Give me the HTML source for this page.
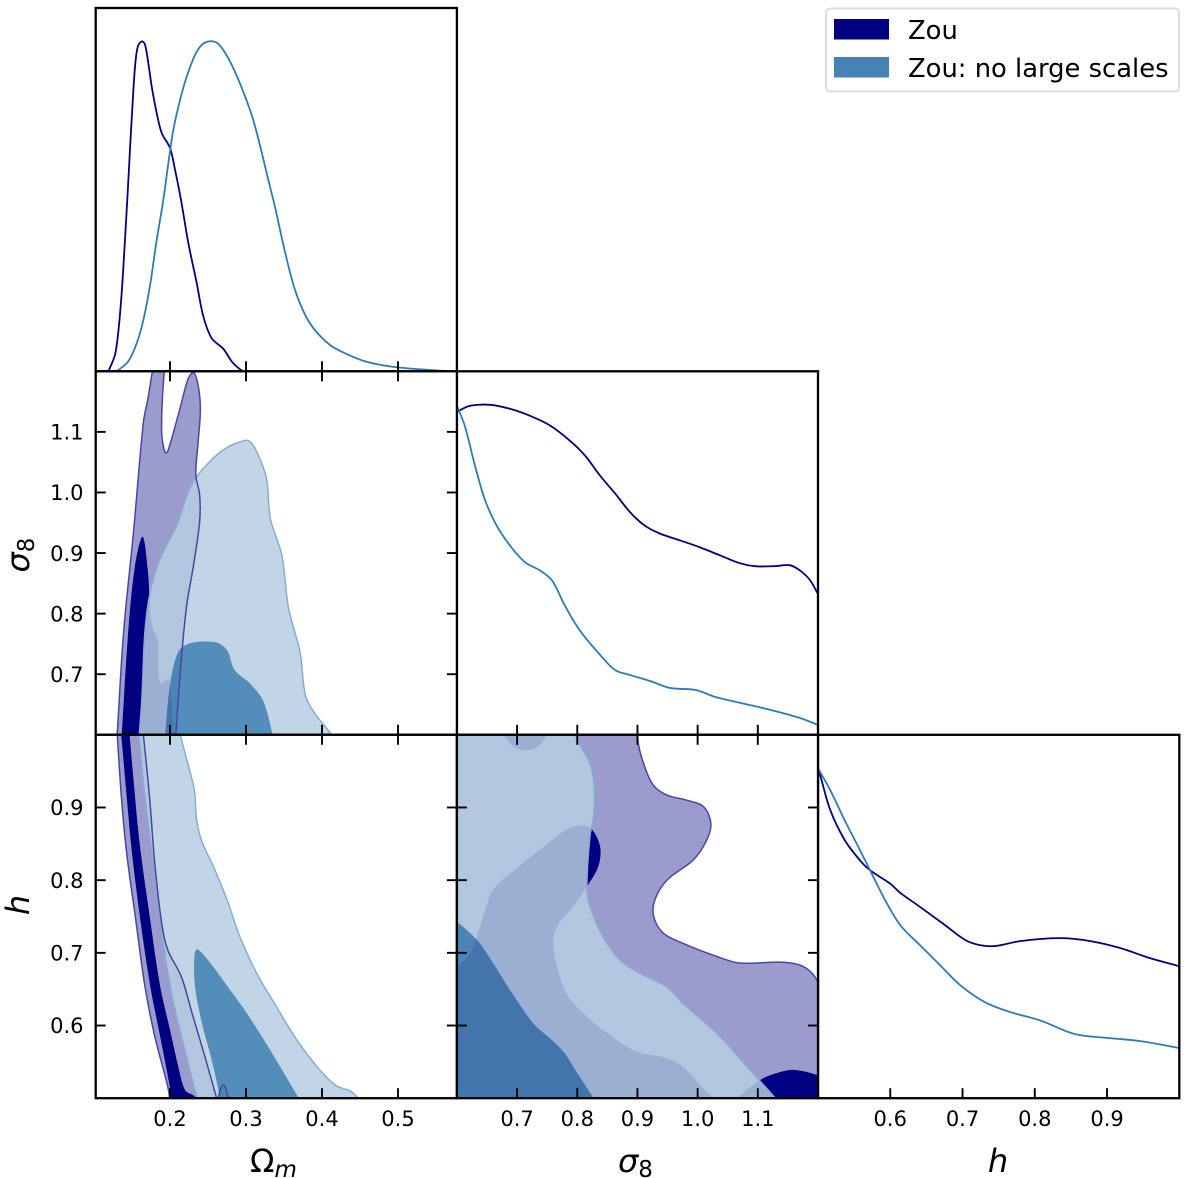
<!DOCTYPE html>
<html lang="en">
<head>
<meta charset="utf-8">
<title>Triangle plot: Zou contours</title>
<style>
html,body{margin:0;padding:0;background:#fff;}
#chart{display:block;width:1200px;height:1178px;font-family:"DejaVu Sans","Liberation Sans",sans-serif;}
</style>
</head>
<body>
<svg id="chart" xmlns="http://www.w3.org/2000/svg" width="1200" height="1178" viewBox="0 0 1200 1178">
  <rect x="0" y="0" width="1200" height="1178" fill="#fff"/>
  <g id="plots"></g>
  <g fill="#000">
    <text x="250" y="1172" font-size="32">Ω<tspan font-style="italic" font-size="23" dy="5">m</tspan></text>
    <text x="618" y="1172" font-size="32"><tspan font-style="italic">σ</tspan><tspan font-size="23" dy="5">8</tspan></text>
    <text x="998" y="1172" font-size="32" font-style="italic" text-anchor="middle">h</text>
    <text transform="translate(29,555) rotate(-90)" font-size="32" text-anchor="middle"><tspan font-style="italic">σ</tspan><tspan font-size="23" dy="5">8</tspan></text>
    <text transform="translate(29,905) rotate(-90)" font-size="32" font-style="italic" text-anchor="middle">h</text>
  </g>
  <g>
    <rect x="826" y="8.5" width="353" height="83" rx="4" fill="#fff" stroke="#dcdcdc" stroke-width="2"/>
    <rect x="834" y="19" width="55" height="20.5" fill="#000080"/>
    <text x="908" y="39" font-size="25.8" fill="#000">Zou</text>
    <rect x="834" y="57" width="55" height="20.5" fill="#4682b4"/>
    <text x="908" y="77" font-size="25.8" fill="#000">Zou: no large scales</text>
  </g>
</svg>
<script>
// ---------- Data: 1D marginals (parameter value, normalised density) ----------
const omegaGridZou = [.119,.1276,.132,.1365,.1408,.1443,.1474,.1505,.1539,.1575,.1628,.1671,.1715,.176,.1825,.1891,.2,.2066,.2145,.2241,.2351,.2438,.2549,.2702,.2812,.2921,.296];
const omegaDensityZou = [0,.05,.12,.24,.40,.54,.675,.80,.92,.983,1,.99,.933,.862,.783,.722,.677,.611,.519,.389,.268,.167,.1,.068,.03,.006,0];
const omegaGridNoLarge = [.130,.1451,.1562,.1649,.1737,.1825,.1912,.1978,.2043,.2132,.222,.2329,.2417,.2526,.2636,.2768,.2921,.3096,.3316,.338,.351,.364,.378,.391,.411,.43,.457,.489,.529,.568];
const omegaDensityNoLarge = [0,.03,.085,.155,.26,.398,.519,.63,.731,.822,.893,.958,.989,1,.992,.948,.872,.761,.559,.50,.365,.25,.17,.124,.079,.055,.03,.015,.006,0];

const sigmaGridZou = [.6,.622,.655,.688,.721,.755,.788,.813,.838,.863,.888,.912,.937,.971,1.004,1.037,1.07,1.095,1.128,1.153,1.17,1.187,1.2];
const sigmaDensityZou = [.979,.997,1,.988,.967,.937,.891,.846,.785,.731,.674,.634,.61,.589,.568,.544,.52,.511,.511,.514,.498,.468,.426];
const sigmaGridNoLarge = [.6,.613,.63,.647,.666,.688,.713,.738,.758,.779,.804,.838,.863,.888,.921,.954,.996,1.029,1.07,1.12,1.17,1.2];
const sigmaDensityNoLarge = [.997,.937,.816,.71,.634,.574,.523,.498,.468,.393,.317,.242,.196,.181,.163,.142,.136,.115,.097,.076,.051,.03];

const hGridZou = [.5,.503,.517,.537,.558,.572,.6,.614,.641,.676,.704,.724,.745,.78,.835,.877,.918,.96,1];
const hDensityZou = [1,.979,.873,.782,.721,.691,.65,.622,.58,.524,.479,.464,.461,.476,.485,.476,.455,.424,.4];
const hGridNoLarge = [.5,.517,.537,.558,.572,.593,.614,.641,.669,.697,.731,.766,.807,.856,.904,.946,1];
const hDensityNoLarge = [1,.933,.842,.752,.691,.6,.524,.464,.403,.342,.291,.261,.236,.194,.182,.173,.152];

// ---------- Data: 2D contours, each a list of smooth boundary runs of [x,y] parameter values ----------
const omegaSigmaZouOuter = [[[.130,.59],[.139,.770],[.152,.935],[.165,1.116],[.171,1.155],[.178,1.21]],
  [[.193,1.21],[.190,1.155],[.189,1.100],[.192,1.072],[.195,1.065],[.199,1.075],[.213,1.138],[.224,1.188],[.231,1.198],[.237,1.177],[.240,1.138],[.237,1.083],[.234,1.029],[.239,.996],[.239,.952],[.231,.880],[.222,.814],[.215,.726],[.207,.59]]];
const omegaSigmaZouInner = [[[.136,.59],[.145,.770],[.154,.880],[.164,.927],[.171,.869],[.173,.825],[.176,.781],[.184,.754],[.185,.699],[.189,.684],[.198,.693],[.202,.660],[.204,.59]]];
const omegaSigmaNoLargeOuter = [[[.159,.59],[.163,.660],[.167,.770],[.174,.836],[.187,.891],[.209,.946],[.226,1.007],[.244,1.040],[.272,1.072],[.299,1.086],[.306,1.083],[.315,1.065],[.327,1.023],[.332,.957],[.347,.897],[.356,.809],[.371,.737],[.378,.666],[.389,.638],[.413,.60]]];
const omegaSigmaNoLargeInner = [[[.193,.59],[.200,.682],[.211,.737],[.226,.751],[.259,.753],[.275,.740],[.285,.707],[.305,.685],[.323,.655],[.337,.59]]];

const omegaHZouOuter = [[[.130,1.01],[.136,.915],[.143,.837],[.155,.745],[.167,.654],[.180,.585],[.197,.516],[.201,.49]],
  [[.264,.49],[.246,.557],[.229,.617],[.215,.667],[.197,.704],[.189,.741],[.180,.823],[.173,.915],[.164,1.01]]];
const omegaHZouLobe = [[[.261,.49],[.268,.517],[.272,.517],[.279,.49]]];
const omegaHZouInner = [[[.135,1.01],[.143,.915],[.150,.837],[.161,.745],[.174,.654],[.187,.585],[.200,.514],[.203,.49]],
  [[.236,.49],[.233,.502],[.220,.511],[.211,.543],[.200,.594],[.187,.654],[.174,.745],[.160,.851],[.152,.938],[.146,1.01]]];
const omegaHNoLargeOuter = [[[.158,1.01],[.167,.915],[.178,.823],[.192,.708],[.202,.644],[.215,.585],[.226,.539],[.238,.49]],
  [[.448,.5],[.437,.510],[.419,.517],[.397,.539],[.367,.580],[.340,.626],[.314,.672],[.292,.722],[.275,.773],[.257,.819],[.242,.853],[.235,.883],[.232,.924],[.222,.966],[.211,1.01]]];
const omegaHNoLargeInner = [[[.268,.49],[.255,.552],[.242,.603],[.233,.653],[.232,.695],[.236,.705],[.253,.686],[.279,.649],[.301,.617],[.332,.566],[.375,.49]]];

const sigmaHZouOuter = [[[.900,1.01],[.9014,.988],[.910,.961],[.926,.931],[.949,.917],[.982,.910],[1.010,.901],[1.022,.878],[1.015,.855],[.993,.828],[.949,.800],[.929,.773],[.927,.750],[.943,.727],[.976,.713],[1.032,.695],[1.070,.686],[1.142,.687],[1.176,.681],[1.198,.663],[1.21,.63]],
  [[1.21,.49]],[[.59,.49]],[[.59,1.01]]];
const sigmaHZouInnerMain = [[[.59,.673],[.622,.699],[.635,.727],[.647,.759],[.660,.787],[.699,.816],[.744,.846],[.785,.871],[.807,.875],[.824,.870],[.838,.846],[.835,.819],[.816,.791],[.793,.764],[.766,.736],[.760,.713],[.768,.676],[.782,.644],[.810,.617],[.854,.587],[.899,.564],[.949,.555],[.976,.543],[1.015,.509],[1.045,.49]],
  [[.59,.49]]];
const sigmaHZouInnerCorner = [[[1.05,.49],[1.104,.525],[1.129,.534],[1.159,.539],[1.198,.532],[1.21,.525]],[[1.21,.49]]];
const sigmaHZouInnerTop = [[[.668,1.01],[.694,.984],[.713,.979],[.735,.984],[.758,1.01]]];
const sigmaHNoLargeOuter = [[[.790,1.01],[.807,.982],[.821,.961],[.828,.929],[.827,.888],[.821,.860],[.816,.791],[.821,.764],[.843,.722],[.871,.690],[.904,.672],[.949,.653],[.976,.630],[1.032,.589],[1.087,.539],[1.14,.49]],
  [[.59,.49]],[[.59,1.01]]];
const sigmaHNoLargeInner = [[[.59,.75],[.633,.718],[.660,.686],[.688,.649],[.727,.603],[.755,.582],[.777,.564],[.799,.536],[.835,.49]],[[.59,.49]]];

// ---------- Data: tick labels ----------
const omegaTicks = [0.2, 0.3, 0.4, 0.5];
const sigmaTicks = [0.7, 0.8, 0.9, 1.0, 1.1];
const hTicks = [0.6, 0.7, 0.8, 0.9];

// ---------- Axis functions ----------
const colLeft = 95.7, colOmegaEnd = 456.9, colSigmaEnd = 818, colHEnd = 1179.3;
const rowTop = 8, rowSigmaStart = 371.3, rowHStart = 734.8, rowEnd = 1098.2;
const xOmega = v => 170 + (v - 0.2) * 760;
const xSigma = v => colOmegaEnd + (v - 0.6) * (colSigmaEnd - colOmegaEnd) / 0.6;
const xH = v => colSigmaEnd + (v - 0.5) * (colHEnd - colSigmaEnd) / 0.5;
const ySigma = v => rowHStart - (v - 0.6) * (rowHStart - rowSigmaStart) / 0.6;
const yH = v => rowEnd - (v - 0.5) * (rowEnd - rowHStart) / 0.5;
const densityScale = 330;
const yDensity = bottom => v => bottom - v * densityScale;

const NS = 'http://www.w3.org/2000/svg';
const root = document.getElementById('plots');
function make(tag, attrs, parent) {
  const el = document.createElementNS(NS, tag);
  for (const k in attrs) el.setAttribute(k, attrs[k]);
  parent.appendChild(el);
  return el;
}
function dist(a, b) {
  return Math.hypot(a[0] - b[0], a[1] - b[1]);
}
function smoothRun(pts, first) {
  let d = (first ? 'M' : 'L') + pts[0][0].toFixed(2) + ' ' + pts[0][1].toFixed(2);
  for (let i = 0; i < pts.length - 1; i++) {
    const p0 = pts[Math.max(i - 1, 0)], p1 = pts[i], p2 = pts[i + 1], p3 = pts[Math.min(i + 2, pts.length - 1)];
    const d01 = dist(p0, p1), d12 = dist(p1, p2), d23 = dist(p2, p3);
    const f1 = d12 / ((d01 + d12) || 1) / 1.5, f2 = d12 / ((d12 + d23) || 1) / 1.5;
    const c1x = p1[0] + (p2[0] - p0[0]) * f1 * 0.5, c1y = p1[1] + (p2[1] - p0[1]) * f1 * 0.5;
    const c2x = p2[0] - (p3[0] - p1[0]) * f2 * 0.5, c2y = p2[1] - (p3[1] - p1[1]) * f2 * 0.5;
    d += 'C' + [c1x, c1y, c2x, c2y, p2[0], p2[1]].map(n => n.toFixed(2)).join(' ');
  }
  return d;
}
function contourPath(runs, sx, sy) {
  let d = '';
  runs.forEach((run, i) => {
    d += smoothRun(run.map(p => [sx(p[0]), sy(p[1])]), i === 0);
  });
  return d + 'Z';
}
function curvePath(xs, ys, sx, sy) {
  return smoothRun(xs.map((x, i) => [sx(x), sy(ys[i])]), true);
}

let clipCount = 0;
function panel(name, x0, y0, x1, y1) {
  clipCount += 1;
  const g = make('g', { style: 'isolation:isolate' }, root);
  
  
  const defs = make('defs', {}, g);
  const clip = make('clipPath', { id: 'clip' + clipCount }, defs);
  make('rect', { x: x0, y: y0, width: x1 - x0, height: y1 - y0 }, clip);
  const body = make('g', { 'clip-path': 'url(#clip' + clipCount + ')', style: 'isolation:isolate' }, g);
  const bg = make('rect', { x: x0, y: y0, width: x1 - x0, height: y1 - y0, fill: '#fff' }, body);
  
  
  return { g, body, x0, y0, x1, y1 };
}
function addFill(p, name, d, attrs) {
  const el = make('path', Object.assign({ d: d, stroke: 'none' }, attrs), p.body);
  
  
  return el;
}
function addContours(p, sx, sy, sets) {
  sets.zouOuter.forEach(c => addFill(p, 'contour-zou-outer', contourPath(c, sx, sy), { fill: '#9b9bce' }));
  sets.zouInner.forEach(c => addFill(p, 'contour-zou-inner', contourPath(c, sx, sy), { fill: '#000080' }));
  addFill(p, 'contour-no-large-scales-outer', contourPath(sets.nlOuter, sx, sy), { fill: 'rgb(182,206,226)', 'fill-opacity': 0.85 });
  addFill(p, 'contour-no-large-scales-inner', contourPath(sets.nlInner, sx, sy), { fill: 'rgb(110,170,208)', style: 'mix-blend-mode:multiply' });
  addFill(p, 'contour-no-large-scales-outline', contourPath(sets.nlOuter, sx, sy), { fill: 'none', stroke: '#86add0', 'stroke-width': 1.5 });
  sets.zouOuter.forEach(c => addFill(p, 'contour-zou-outline', contourPath(c, sx, sy), { fill: 'none', stroke: '#4747a3', 'stroke-width': 1.5 }));
}
function addLine(p, name, d, colour) {
  const el = make('path', { d: d, fill: 'none', stroke: colour, 'stroke-width': 1.8 }, p.body);
  
  
}
function addFrame(p, name) {
  const el = make('rect', { x: p.x0, y: p.y0, width: p.x1 - p.x0, height: p.y1 - p.y0, fill: 'none', stroke: '#000', 'stroke-width': 2.3 }, p.g);
  
  
}
function tickMarks(p, ticks, scale, sides) {
  const len = 10;
  ticks.forEach(t => {
    const v = scale(t);
    sides.forEach(s => {
      let c;
      if (s === 'bottom') c = [v, p.y1, v, p.y1 - len];
      if (s === 'top') c = [v, p.y0, v, p.y0 + len];
      if (s === 'left') c = [p.x0, v, p.x0 + len, v];
      if (s === 'right') c = [p.x1, v, p.x1 - len, v];
      const el = make('line', { x1: c[0], y1: c[1], x2: c[2], y2: c[3], stroke: '#000', 'stroke-width': 1.9 }, p.g);
      
      
    });
  });
}
function xTickLabels(ticks, scale) {
  ticks.forEach(t => {
    const el = make('text', { x: scale(t), y: 1125.8, 'font-size': 21, 'text-anchor': 'middle', fill: '#000' }, root);
    el.textContent = t.toFixed(1);
    
    
  });
}
function yTickLabels(ticks, scale) {
  ticks.forEach(t => {
    const el = make('text', { x: 83.5, y: scale(t) + 7.7, 'font-size': 21, 'text-anchor': 'end', fill: '#000' }, root);
    el.textContent = t.toFixed(1);
    
    
  });
}

// ---------- Diagonal panels ----------
const pOmega1D = panel('panel-omega-m-marginal', colLeft, rowTop, colOmegaEnd, rowSigmaStart);
addLine(pOmega1D, 'marginal-zou', curvePath(omegaGridZou, omegaDensityZou, xOmega, yDensity(rowSigmaStart)), '#000080');
addLine(pOmega1D, 'marginal-no-large-scales', curvePath(omegaGridNoLarge, omegaDensityNoLarge, xOmega, yDensity(rowSigmaStart)), '#2c7cb6');
tickMarks(pOmega1D, omegaTicks, xOmega, ['bottom']);
addFrame(pOmega1D, 'panel-frame');

const pSigma1D = panel('panel-sigma-8-marginal', colOmegaEnd, rowSigmaStart, colSigmaEnd, rowHStart);
addLine(pSigma1D, 'marginal-zou', curvePath(sigmaGridZou, sigmaDensityZou, xSigma, yDensity(rowHStart)), '#000080');
addLine(pSigma1D, 'marginal-no-large-scales', curvePath(sigmaGridNoLarge, sigmaDensityNoLarge, xSigma, yDensity(rowHStart)), '#2c7cb6');
tickMarks(pSigma1D, sigmaTicks, xSigma, ['bottom']);
addFrame(pSigma1D, 'panel-frame');

const pH1D = panel('panel-h-marginal', colSigmaEnd, rowHStart, colHEnd, rowEnd);
addLine(pH1D, 'marginal-zou', curvePath(hGridZou, hDensityZou, xH, yDensity(rowEnd)), '#000080');
addLine(pH1D, 'marginal-no-large-scales', curvePath(hGridNoLarge, hDensityNoLarge, xH, yDensity(rowEnd)), '#2c7cb6');
tickMarks(pH1D, hTicks, xH, ['bottom']);
addFrame(pH1D, 'panel-frame');

// ---------- Off-diagonal panels ----------
const pOmegaSigma = panel('panel-omega-m-sigma-8', colLeft, rowSigmaStart, colOmegaEnd, rowHStart);
addContours(pOmegaSigma, xOmega, ySigma, { zouOuter: [omegaSigmaZouOuter], zouInner: [omegaSigmaZouInner], nlOuter: omegaSigmaNoLargeOuter, nlInner: omegaSigmaNoLargeInner });
tickMarks(pOmegaSigma, omegaTicks, xOmega, ['top', 'bottom']);
tickMarks(pOmegaSigma, sigmaTicks, ySigma, ['left', 'right']);
addFrame(pOmegaSigma, 'panel-frame');

const pOmegaH = panel('panel-omega-m-h', colLeft, rowHStart, colOmegaEnd, rowEnd);
addContours(pOmegaH, xOmega, yH, { zouOuter: [omegaHZouOuter, omegaHZouLobe], zouInner: [omegaHZouInner], nlOuter: omegaHNoLargeOuter, nlInner: omegaHNoLargeInner });
tickMarks(pOmegaH, omegaTicks, xOmega, ['top', 'bottom']);
tickMarks(pOmegaH, hTicks, yH, ['left', 'right']);
addFrame(pOmegaH, 'panel-frame');

const pSigmaH = panel('panel-sigma-8-h', colOmegaEnd, rowHStart, colSigmaEnd, rowEnd);
addContours(pSigmaH, xSigma, yH, { zouOuter: [sigmaHZouOuter], zouInner: [sigmaHZouInnerMain, sigmaHZouInnerCorner, sigmaHZouInnerTop], nlOuter: sigmaHNoLargeOuter, nlInner: sigmaHNoLargeInner });
tickMarks(pSigmaH, sigmaTicks, xSigma, ['top', 'bottom']);
tickMarks(pSigmaH, hTicks, yH, ['left', 'right']);
addFrame(pSigmaH, 'panel-frame');

// ---------- Tick labels ----------
xTickLabels(omegaTicks, xOmega);
xTickLabels(sigmaTicks, xSigma);
xTickLabels(hTicks, xH);
yTickLabels(sigmaTicks, ySigma);
yTickLabels(hTicks, yH);
</script>
</body>
</html>
